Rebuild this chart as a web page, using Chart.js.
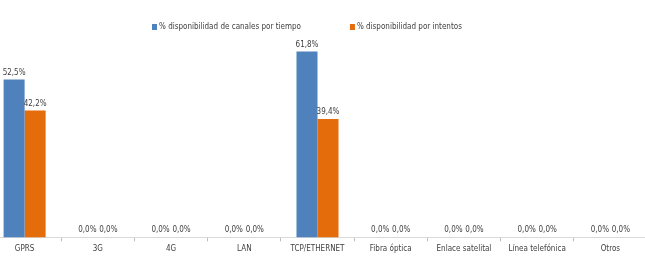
<!DOCTYPE html>
<html>
<head>
<meta charset="utf-8">
<script src="https://cdn.jsdelivr.net/npm/chart.js@4/dist/chart.umd.min.js"></script>
<style>
  html, body { margin: 0; padding: 0; background: #fff; overflow: hidden; }
  #wrap { position: absolute; left: -12px; top: 0; width: 659px; height: 260px; }
</style>
</head>
<body>
<div id="wrap"><canvas id="chart"></canvas></div>
<script>
var categories = ["GPRS", "3G", "4G", "LAN", "TCP/ETHERNET", "Fibra óptica", "Enlace satelital", "Línea telefónica", "Otros"];
var porTiempo = [52.5, 0, 0, 0, 61.8, 0, 0, 0, 0];
var porIntentos = [42.2, 0, 0, 0, 39.4, 0, 0, 0, 0];
var seriesNames = ["% disponibilidad de canales por tiempo", "% disponibilidad por intentos"];

var FONT = "'Liberation Sans Narrow', 'DejaVu Sans Condensed', sans-serif";
var colors = { blue: "#4f81bd", orange: "#e46c0a", text: "#404040", axis: "#d9d9d9" };

// data labels above each bar, "52,5%"
var valueLabels = {
  id: "valueLabels",
  afterDatasetsDraw: function(chart) {
    var ctx = chart.ctx;
    ctx.save();
    ctx.font = "8px " + FONT;
    ctx.fillStyle = colors.text;
    ctx.textAlign = "center";
    ctx.textBaseline = "bottom";
    chart.data.datasets.forEach(function(ds, i) {
      chart.getDatasetMeta(i).data.forEach(function(bar, j) {
        var txt = ds.data[j].toFixed(1).replace(".", ",") + "%";
        ctx.fillText(txt, bar.x, bar.y - 3);
      });
    });
    ctx.restore();
  }
};

// legend drawn by hand, items 49px apart
var topLegend = {
  id: "topLegend",
  afterDraw: function(chart) {
    var ctx = chart.ctx;
    ctx.save();
    ctx.font = "8px " + FONT;
    ctx.textBaseline = "middle";
    var x = 164, y = 27;
    chart.data.datasets.forEach(function(ds) {
      ctx.fillStyle = ds.backgroundColor;
      ctx.fillRect(x, y - 3, 5, 6);
      ctx.fillStyle = colors.text;
      ctx.fillText(ds.label, x + 7, y);
      x += 7 + ctx.measureText(ds.label).width + 49;
    });
    ctx.restore();
  }
};

new Chart(document.getElementById("chart"), {
  type: "bar",
  data: {
    labels: categories,
    datasets: [
      { label: seriesNames[0], data: porTiempo, backgroundColor: colors.blue },
      { label: seriesNames[1], data: porIntentos, backgroundColor: colors.orange }
    ]
  },
  options: {
    responsive: true,
    maintainAspectRatio: false,
    animation: false,
    layout: { padding: { top: 45, bottom: 3, left: 0, right: 0 } },
    datasets: { bar: { categoryPercentage: 0.574, barPercentage: 1 } },
    plugins: { legend: { display: false }, tooltip: { enabled: false } },
    scales: {
      x: {
        grid: { display: true, drawOnChartArea: false, drawTicks: true, tickLength: 4, color: "#bfbfbf", offset: true },
        border: { display: true, color: colors.axis, width: 1 },
        ticks: { color: colors.text, font: { family: FONT, size: 8 }, padding: 3, maxRotation: 0, autoSkip: false }
      },
      y: { display: false, min: 0, max: 64 }
    }
  },
  plugins: [valueLabels, topLegend]
});
</script>
</body>
</html>
